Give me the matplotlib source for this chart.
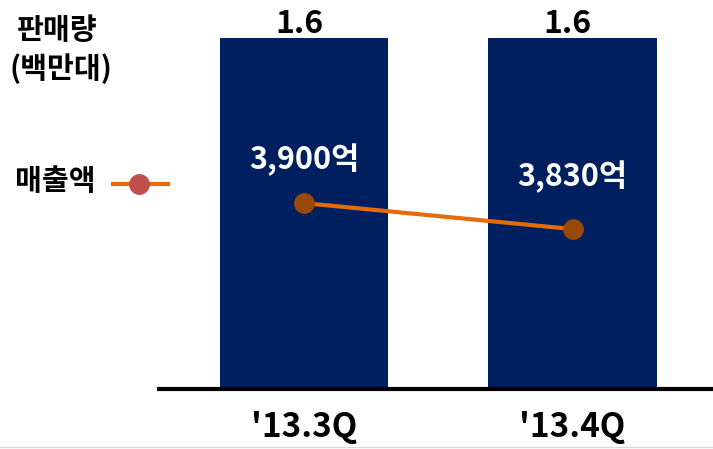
import matplotlib
matplotlib.use("Agg")
import matplotlib.pyplot as plt
from matplotlib.lines import Line2D

plt.rcParams['font.family'] = ['Noto Sans CJK KR', 'DejaVu Sans']

# quarterly data
quarters = ["'13.3Q", "'13.4Q"]
units = [1.6, 1.6]            # 판매량 (백만대)
revenue = [3900, 3830]        # 매출액 (억)
revenue_labels = ["3,900억", "3,830억"]

bar_color = '#001F5F'
line_color = '#E46C0A'
marker_color = '#984807'

W, H = 713, 449
fig = plt.figure(figsize=(W / 100, H / 100), dpi=100)
ax = fig.add_axes([159 / W, 1 - 389 / H, 1 - 159 / W, (389 - 38) / H])

x = list(range(len(quarters)))
ax.bar(x, units, width=0.626, color=bar_color, zorder=1)
ax.set_xlim(-0.54, 1.523)
ax.set_ylim(0, 1.6)

for xi, v in zip(x, units):
    ax.annotate(f"{v:.1f}", (xi, v), xytext=(-5, 14), textcoords='offset pixels',
                ha='center', va='center', fontsize=23, fontweight='bold')

ax.set_xticks(x)
ax.set_xticklabels(quarters, fontsize=24, fontweight='bold')
ax.tick_params(axis='x', length=0, pad=16)
ax.set_yticks([])
for side in ['left', 'right', 'top']:
    ax.spines[side].set_visible(False)
ax.spines['bottom'].set_linewidth(3)
ax.spines['bottom'].set_zorder(3)

# revenue line on its own scale
ax2 = ax.twinx()
ax2.set_ylim(3399, 4345)
ax2.plot(x, revenue, color=line_color, linewidth=3, marker='o',
         markersize=14, markerfacecolor=marker_color,
         markeredgecolor=marker_color, zorder=4)
for xi, v, lab, dy in zip(x, revenue, revenue_labels, [43, 52]):
    ax2.annotate(lab, (xi, v), xytext=(0, dy), textcoords='offset pixels',
                 ha='center', va='center', fontsize=22, fontweight='semibold',
                 color='white')
ax2.set_yticks([])
for side in ['left', 'right', 'top', 'bottom']:
    ax2.spines[side].set_visible(False)

# axis caption and legend
fig.text(17 / W, 1 - 30 / H, '판매량', fontsize=21, fontweight='bold',
         ha='left', va='center')
fig.text(9 / W, 1 - 69 / H, '(백만대)', fontsize=21, fontweight='bold',
         ha='left', va='center')
fig.text(15 / W, 1 - 181 / H, '매출액', fontsize=21, fontweight='bold',
         ha='left', va='center')
fig.add_artist(Line2D([113 / W, 168 / W], [1 - 184 / H, 1 - 184 / H],
                      color=line_color, linewidth=3, transform=fig.transFigure))
fig.add_artist(Line2D([139 / W], [1 - 184 / H], marker='o', markersize=14,
                      color='#C0504D', linestyle='none',
                      transform=fig.transFigure))

fig.add_artist(Line2D([0, 1], [1 - 447 / H, 1 - 447 / H], color='#D9D9D9',
                      linewidth=1, transform=fig.transFigure))

fig.savefig('out.png', dpi=100)
